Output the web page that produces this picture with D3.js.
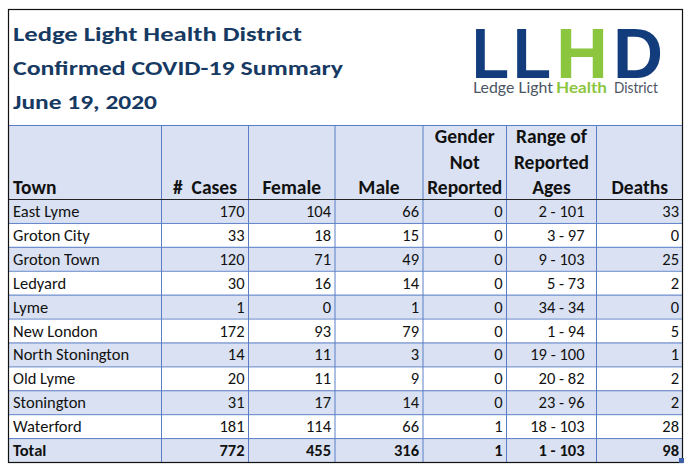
<!DOCTYPE html>
<html lang="en">
<head>
  <meta charset="UTF-8">
  <title>LLHD Confirmed COVID-19 Summary</title>
  <style>
    body { margin: 0; padding: 0; background: #ffffff; }
    svg { display: block; font-family: Carlito, Lato, 'Open Sans', sans-serif; }
  </style>
</head>
<body>
<svg></svg>
<script src="https://d3js.org/d3.v7.min.js"></script>
<script>
  const width = 693, height = 473;

  // table data
  const towns = ["East Lyme", "Groton City", "Groton Town", "Ledyard", "Lyme", "New London",
    "North Stonington", "Old Lyme", "Stonington", "Waterford"];
  const cases = [170, 33, 120, 30, 1, 172, 14, 20, 31, 181];
  const female = [104, 18, 71, 16, 0, 93, 11, 11, 17, 114];
  const male = [66, 15, 49, 14, 1, 79, 3, 9, 14, 66];
  const genderNotReported = [0, 0, 0, 0, 0, 0, 0, 0, 0, 1];
  const ageRanges = ["2 - 101", "3 - 97", "9 - 103", "5 - 73", "34 - 34", "1 - 94",
    "19 - 100", "20 - 82", "23 - 96", "18 - 103"];
  const deaths = [33, 0, 25, 2, 0, 5, 1, 2, 2, 28];
  const totalRow = ["Total", 772, 455, 316, 1, "1 - 103", 98];

  const headers = [["Town"], ["#  Cases"], ["Female"], ["Male"],
    ["Gender", "Not", "Reported"], ["Range of", "Reported", "Ages"], ["Deaths"]];
  const titleLines = ["Ledge Light Health District", "Confirmed COVID-19 Summary", "June 19, 2020"];
  const logoWords = ["Ledge Light", "Health", "District"];

  const navy = "#173a63", gridBlue = "#5a7ec6", bandFill = "#d9e1f2";

  const svg = d3.select("svg").attr("width", width).attr("height", height);

  const tLeft = 8, tRight = 683, tTop = 9, headTop = 125, headBottom = 199, tBottom = 462;
  const colEdges = [tLeft, 161.5, 248.5, 335, 423, 506.5, 596.5, tRight];

  const rows = towns.map((t, i) => [t, cases[i], female[i], male[i], genderNotReported[i], ageRanges[i], deaths[i]]);
  rows.push(totalRow);

  const y = d3.scaleBand().domain(d3.range(rows.length)).range([headBottom, tBottom]);

  // header band + row bands
  svg.append("rect").attr("x", tLeft).attr("y", headTop)
    .attr("width", tRight - tLeft).attr("height", headBottom - headTop).attr("fill", bandFill);
  svg.selectAll("rect.band").data(rows).enter().append("rect")
    .attr("class", "band")
    .attr("x", tLeft).attr("y", (d, i) => y(i))
    .attr("width", tRight - tLeft).attr("height", y.bandwidth())
    .attr("fill", (d, i) => i % 2 === 0 ? bandFill : "#ffffff");

  // grid lines
  svg.selectAll("line.h").data(d3.range(1, rows.length)).enter().append("line")
    .attr("x1", tLeft).attr("x2", tRight)
    .attr("y1", i => y(i) + 0.5).attr("y2", i => y(i) + 0.5)
    .attr("stroke", gridBlue).attr("stroke-width", 1);
  svg.append("line").attr("x1", tLeft).attr("x2", tRight)
    .attr("y1", headTop + 0.5).attr("y2", headTop + 0.5)
    .attr("stroke", gridBlue);
  svg.selectAll("line.v").data(colEdges.slice(1, -1)).enter().append("line")
    .attr("x1", d => d).attr("x2", d => d)
    .attr("y1", headTop).attr("y2", tBottom)
    .attr("stroke", gridBlue).attr("stroke-width", 1);
  svg.append("line").attr("x1", tLeft).attr("x2", tRight)
    .attr("y1", headBottom + 0.5).attr("y2", headBottom + 0.5)
    .attr("stroke", "#222").attr("stroke-width", 1.2);

  // outer border
  svg.append("rect").attr("x", tLeft + 0.5).attr("y", tTop + 0.5)
    .attr("width", tRight - tLeft - 1).attr("height", tBottom - tTop)
    .attr("fill", "none").attr("stroke", "#111").attr("stroke-width", 1.2);

  // title
  const titleWidths = [289, 330, 144];
  svg.selectAll("text.title").data(titleLines).enter().append("text")
    .attr("x", 13).attr("y", (d, i) => 41 + i * 34)
    .attr("font-size", 20).attr("font-weight", 700).attr("fill", navy)
    .attr("textLength", (d, i) => titleWidths[i]).attr("lengthAdjust", "spacingAndGlyphs")
    .text(d => d);

  // logo
  const logoLetters = ["L", "L", "H", "D"];
  const logoX = [472, 513, 556, 613];
  const logoW = [37, 38, 52, 50];
  const logoColor = ["#123c7c", "#123c7c", "#8cc63f", "#123c7c"];
  svg.selectAll("text.logo").data(logoLetters).enter().append("text")
    .attr("x", (d, i) => logoX[i]).attr("y", 78)
    .attr("font-family", "'Liberation Sans', Arial, sans-serif")
    .attr("font-size", 70).attr("font-weight", 700)
    .attr("fill", (d, i) => logoColor[i])
    .attr("textLength", (d, i) => logoW[i]).attr("lengthAdjust", "spacingAndGlyphs")
    .text(d => d);
  const wordX = [473, 556, 614], wordW = [80, 51, 44];
  svg.selectAll("text.logoword").data(logoWords).enter().append("text")
    .attr("x", (d, i) => wordX[i]).attr("y", 93)
    .attr("font-family", "Lato, sans-serif").attr("font-size", 15)
    .attr("font-weight", (d, i) => i === 1 ? 700 : 400)
    .attr("fill", (d, i) => i === 1 ? "#8cc63f" : "#4b5563")
    .attr("textLength", (d, i) => wordW[i]).attr("lengthAdjust", "spacingAndGlyphs")
    .text(d => d);

  // headers
  headers.forEach((lines, c) => {
    const x0 = colEdges[c], x1 = colEdges[c + 1];
    lines.forEach((line, k) => {
      svg.append("text")
        .attr("x", c === 0 ? x0 + 5 : (x0 + x1) / 2)
        .attr("y", 194 - (lines.length - 1 - k) * 25.5)
        .attr("text-anchor", c === 0 ? "start" : "middle")
        .attr("font-size", 19.5).attr("font-weight", 700).attr("fill", "#111")
        .style("white-space", "pre")
        .text(line);
    });
  });

  // cells
  rows.forEach((row, r) => {
    row.forEach((v, c) => {
      const x0 = colEdges[c], x1 = colEdges[c + 1];
      let x, anchor;
      if (c === 0) { x = x0 + 5; anchor = "start"; }
      else if (c === 5) { x = x1 - 12; anchor = "end"; }
      else { x = x1 - 4; anchor = "end"; }
      svg.append("text")
        .attr("x", x).attr("y", y(r) + 18)
        .attr("text-anchor", anchor)
        .attr("font-size", 16.5)
        .attr("font-weight", r === rows.length - 1 ? 700 : 400)
        .attr("fill", "#111")
        .text(v);
    });
  });

  // excel fill handle
  svg.append("rect").attr("x", tRight - 4).attr("y", tBottom - 4)
    .attr("width", 5).attr("height", 5).attr("fill", "#3b5fa8");
</script>
</body>
</html>
